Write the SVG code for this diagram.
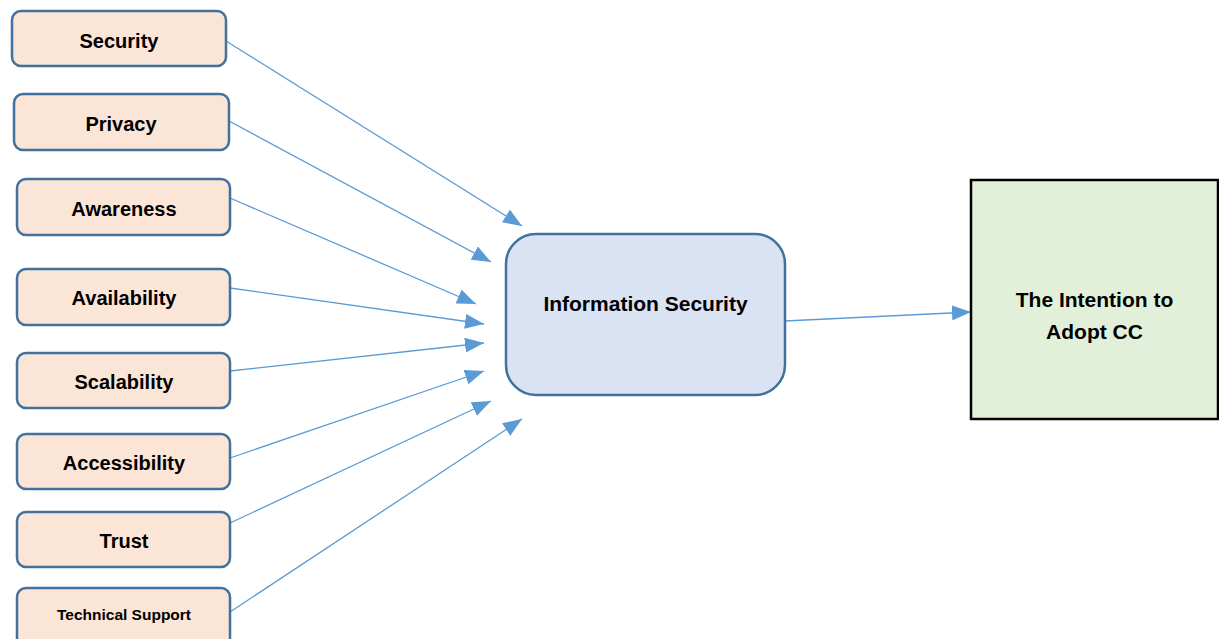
<svg xmlns="http://www.w3.org/2000/svg" width="1219" height="639" viewBox="0 0 1219 639">
<defs>
<style>
.src rect{fill:#FBE5D6;stroke:#41719C;stroke-width:2.5}
.src text{font-family:"Liberation Sans",Arial,sans-serif;font-weight:bold;font-size:20px;fill:#000;text-anchor:middle}
.conn line{stroke:#5B9BD5;stroke-width:1.3;fill:none}
.lbl{font-family:"Liberation Sans",Arial,sans-serif;font-weight:bold;font-size:21px;fill:#000;text-anchor:middle}
</style>
<marker id="arr" markerUnits="userSpaceOnUse" markerWidth="19" markerHeight="15" refX="19" refY="7.5" orient="auto">
<path d="M0,0 L19,7.5 L0,15 z" fill="#5B9BD5"/>
</marker>
</defs>
<rect width="1219" height="639" fill="#fff"/>
<g class="conn">
<line x1="226" y1="41" x2="522" y2="226" marker-end="url(#arr)"/>
<line x1="229" y1="121" x2="491" y2="262" marker-end="url(#arr)"/>
<line x1="230" y1="198" x2="476" y2="304" marker-end="url(#arr)"/>
<line x1="230" y1="288" x2="484" y2="324" marker-end="url(#arr)"/>
<line x1="230" y1="371" x2="484" y2="343" marker-end="url(#arr)"/>
<line x1="230" y1="458" x2="484" y2="371" marker-end="url(#arr)"/>
<line x1="230" y1="523" x2="491" y2="401" marker-end="url(#arr)"/>
<line x1="230" y1="612" x2="522" y2="419" marker-end="url(#arr)"/>
<line x1="785" y1="321" x2="971" y2="312" marker-end="url(#arr)"/>
</g>
<g id="security" class="src"><rect x="12" y="11" width="214" height="55" rx="9"/><text x="119" y="48">Security</text></g>
<g id="privacy" class="src"><rect x="14" y="94" width="215" height="56" rx="9"/><text x="121" y="131">Privacy</text></g>
<g id="awareness" class="src"><rect x="17" y="179" width="213" height="56" rx="9"/><text x="124" y="216">Awareness</text></g>
<g id="availability" class="src"><rect x="17" y="269" width="213" height="56" rx="9"/><text x="124" y="305">Availability</text></g>
<g id="scalability" class="src"><rect x="17" y="353" width="213" height="55" rx="9"/><text x="124" y="389">Scalability</text></g>
<g id="accessibility" class="src"><rect x="17" y="434" width="213" height="55" rx="9"/><text x="124" y="470">Accessibility</text></g>
<g id="trust" class="src"><rect x="17" y="512" width="213" height="55" rx="9"/><text x="124" y="548">Trust</text></g>
<g id="technical-support" class="src"><rect x="17" y="588" width="213" height="60" rx="9"/><text x="124" y="620" style="font-size:15.5px">Technical Support</text></g>
<g id="information-security"><rect x="506" y="234" width="279" height="161" rx="30" fill="#DAE3F3" stroke="#41719C" stroke-width="2.5"/><text class="lbl" x="645.5" y="311">Information Security</text></g>
<g id="intention"><rect x="971" y="180" width="247" height="239" fill="#E2F0D9" stroke="#000" stroke-width="2.5"/><text class="lbl" x="1094.5" y="307">The Intention to</text><text class="lbl" x="1094.5" y="339">Adopt CC</text></g>
</svg>
